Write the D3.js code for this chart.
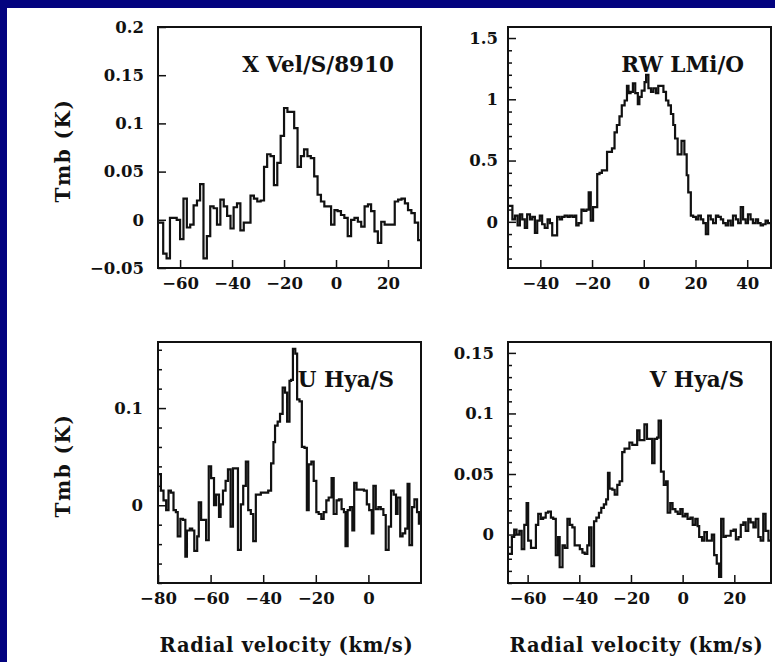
<!DOCTYPE html>
<html>
<head>
<meta charset="utf-8">
<script src="https://cdn.jsdelivr.net/npm/d3@7"></script>
<style>
  html, body { margin: 0; padding: 0; background: #ffffff; }
  svg { display: block; }
</style>
</head>
<body>
<svg id="chart" width="775" height="662"></svg>
<script>
// ---- Spectra: channel velocity (km/s) and main-beam temperature Tmb (K) ----

// X Vel/S/8910
const velXVel = [
  -67.7,-66.5,-65.2,-63.9,-62.6,-61.3,-60.0,-58.7,-57.4,-56.1,
  -54.8,-53.5,-52.3,-51.0,-49.7,-48.4,-47.1,-45.8,-44.5,-43.2,
  -41.9,-40.6,-39.4,-38.1,-36.8,-35.5,-34.2,-32.9,-31.6,-30.3,
  -29.0,-27.7,-26.5,-25.2,-23.9,-22.6,-21.3,-20.0,-18.7,-17.4,
  -16.1,-14.8,-13.5,-12.3,-11.0,-9.7,-8.4,-7.1,-5.8,-4.5,
  -3.2,-1.9,-0.6,0.6,1.9,3.2,4.5,5.8,7.1,8.4,
  9.7,11.0,12.3,13.5,14.8,16.1,17.4,18.7,20.0,21.3,
  22.6,23.9,25.2,26.5,27.7,29.0,30.3,31.6
];
const tmbXVel = [
  -0.003,-0.035,-0.040,0.002,0.002,0.000,-0.020,0.022,-0.008,-0.005,
  0.015,0.020,0.037,-0.040,-0.017,0.014,0.012,-0.005,0.021,0.014,
  0.004,-0.009,0.013,0.017,-0.011,-0.003,-0.003,0.025,0.022,0.019,
  0.020,0.055,0.068,0.066,0.036,0.059,0.087,0.116,0.112,0.112,
  0.095,0.055,0.066,0.073,0.066,0.064,0.045,0.026,0.019,0.014,
  0.014,-0.005,0.010,0.009,0.005,0.002,-0.017,0.000,0.002,-0.002,
  -0.007,0.014,0.016,0.009,-0.012,-0.024,-0.002,-0.005,-0.005,-0.005,
  0.019,0.021,0.022,0.017,0.010,0.007,-0.003,-0.021
];

// RW LMi/O
const velRwLmi = [
  -51.7,-50.8,-49.8,-48.8,-47.9,-47.0,-46.0,-45.1,-44.0,-43.1,
  -42.1,-41.2,-40.2,-39.3,-38.3,-37.2,-36.3,-35.4,-34.4,-33.5,
  -32.5,-31.6,-30.6,-29.5,-28.6,-27.6,-26.7,-26.1,-25.2,-24.1,
  -23.2,-22.2,-21.3,-20.5,-19.6,-18.7,-18.0,-17.1,-16.2,-15.1,
  -14.2,-13.2,-12.3,-11.3,-10.4,-9.4,-8.5,-7.4,-6.5,-5.9,
  -5.1,-4.2,-3.3,-2.3,-1.7,-0.8,0.3,0.9,1.8,2.8,
  3.7,4.7,5.6,6.7,7.6,8.6,9.5,10.5,11.4,12.1,
  13.1,14.0,14.6,15.7,16.6,17.2,18.2,19.1,20.2,21.1,
  22.1,23.0,24.0,24.9,25.9,26.8,27.9,28.8,29.8,30.7,
  31.7,32.6,33.6,34.5,35.6,36.5,37.5,38.4,39.4,40.3,
  41.3,42.2,43.3,44.2,45.2,46.1,47.1,48.0
];
const tmbRwLmi = [
  0.13,0.02,0.05,-0.03,0.06,0.02,-0.05,0.06,0.02,0.04,
  -0.09,0.01,0.05,-0.02,-0.05,0.02,-0.01,-0.11,-0.11,0.04,
  0.02,0.04,0.05,0.04,0.05,0.04,0.05,-0.03,-0.01,0.10,
  0.09,0.10,0.24,0.01,0.12,0.12,0.39,0.40,0.42,0.42,
  0.57,0.57,0.60,0.73,0.79,0.86,0.95,0.99,1.11,1.05,
  1.06,1.13,1.05,0.96,1.02,1.07,1.14,1.20,1.09,1.06,
  1.09,1.05,1.11,1.11,1.06,0.99,0.95,0.88,0.79,0.68,
  0.55,0.55,0.66,0.55,0.38,0.24,0.05,0.04,0.02,0.05,
  0.02,-0.01,-0.10,0.05,0.02,-0.01,0.05,0.04,0.02,-0.01,
  -0.03,0.01,-0.03,0.05,0.02,-0.01,0.12,0.02,-0.01,0.06,
  0.02,-0.01,0.02,-0.01,-0.03,-0.02,0.01,-0.01
];

// U Hya/S
const velUHya = [
  -79.8,-78.9,-77.9,-76.9,-76.0,-75.1,-74.1,-73.2,-72.5,-71.5,
  -70.5,-69.6,-69.0,-67.9,-67.0,-66.2,-65.1,-64.5,-63.6,-62.6,
  -61.7,-60.7,-59.8,-58.7,-57.9,-56.8,-56.2,-55.3,-54.3,-53.4,
  -52.4,-51.5,-50.4,-49.6,-48.5,-47.6,-46.6,-45.7,-44.7,-43.8,
  -42.8,-41.9,-40.9,-40.0,-39.0,-38.1,-37.0,-36.1,-35.5,-34.5,
  -33.6,-32.6,-31.7,-30.9,-30.0,-29.4,-28.7,-27.8,-27.1,-26.2,
  -25.3,-24.3,-23.4,-22.7,-21.7,-20.8,-19.8,-18.9,-17.9,-17.0,
  -16.0,-15.1,-14.0,-13.2,-12.1,-11.2,-10.2,-9.3,-8.7,-7.9,
  -7.0,-6.1,-5.4,-4.5,-3.6,-2.6,-1.7,-0.6,0.3,1.3,
  1.9,2.8,3.8,4.7,5.7,6.6,7.7,8.6,9.6,10.5,
  11.1,12.1,13.0,14.0,14.9,15.6,16.6,17.5,18.5,19.2
];
const tmbUHya = [
  0.032,0.015,0.005,-0.005,0.015,0.013,-0.005,-0.007,-0.032,-0.014,
  -0.015,-0.053,-0.026,-0.024,-0.026,-0.047,-0.032,0.003,-0.015,-0.015,
  -0.036,0.040,0.028,0.000,0.011,-0.012,0.001,0.015,0.025,0.037,
  -0.022,0.038,0.038,-0.046,0.001,0.020,0.045,-0.005,-0.009,-0.037,
  0.011,0.011,0.013,0.013,0.013,0.015,0.043,0.065,0.082,0.086,
  0.094,0.121,0.116,0.086,0.128,0.129,0.161,0.156,0.109,0.107,
  0.060,0.059,-0.005,0.042,0.045,0.025,-0.007,-0.009,-0.014,-0.007,
  0.005,0.008,0.028,-0.009,0.005,0.006,-0.004,-0.007,-0.042,-0.005,
  -0.002,-0.026,0.023,0.016,0.016,0.016,0.015,0.001,-0.005,-0.029,
  0.020,-0.004,-0.002,-0.004,-0.010,-0.046,-0.022,0.015,0.011,-0.009,
  0.008,-0.032,-0.029,-0.024,0.022,-0.041,-0.002,0.006,-0.007,-0.019
];

// V Hya/S
const velVHya = [
  -66.8,-66.1,-65.2,-64.3,-63.2,-62.3,-61.3,-60.4,-59.8,-58.7,
  -57.8,-56.8,-55.9,-54.9,-54.0,-53.0,-52.1,-51.0,-50.1,-49.1,
  -48.2,-47.6,-46.5,-45.6,-44.6,-43.7,-42.7,-41.8,-40.7,-39.8,
  -38.8,-37.9,-36.9,-36.2,-35.3,-34.3,-33.4,-32.4,-31.5,-30.5,
  -29.6,-28.9,-28.3,-27.2,-26.3,-25.3,-24.4,-23.4,-22.5,-21.5,
  -20.6,-19.5,-18.6,-17.6,-16.7,-15.7,-14.8,-13.8,-12.9,-11.8,
  -10.9,-9.9,-9.3,-8.4,-7.3,-6.4,-5.8,-4.8,-3.9,-2.8,
  -1.9,-0.9,0.0,1.0,1.9,3.0,3.9,4.9,5.8,6.4,
  7.5,8.4,9.4,10.3,11.3,12.2,13.2,14.1,14.9,15.8,
  16.7,17.7,18.6,19.7,20.6,21.6,22.5,23.5,24.4,25.4,
  26.3,27.4,28.3,29.3,30.2,31.2,32.1,33.2
];
const tmbVHya = [
  -0.016,-0.002,0.004,0.000,0.003,-0.012,0.008,0.026,-0.005,-0.011,
  -0.011,0.008,0.017,0.013,0.014,0.018,0.019,0.014,0.013,-0.017,
  -0.002,-0.027,-0.009,-0.011,0.013,0.008,0.006,-0.009,-0.009,-0.012,
  -0.015,-0.016,-0.009,0.006,-0.026,0.011,0.014,0.018,0.022,0.025,
  0.029,0.051,0.038,0.037,0.033,0.041,0.044,0.068,0.071,0.071,
  0.076,0.074,0.074,0.086,0.078,0.078,0.091,0.079,0.079,0.059,
  0.079,0.080,0.094,0.052,0.041,0.044,0.018,0.026,0.021,0.019,
  0.017,0.021,0.015,0.017,0.013,0.014,0.008,0.013,0.007,-0.002,
  -0.005,0.002,-0.005,-0.005,0.000,-0.017,-0.024,-0.035,0.013,-0.002,
  -0.001,-0.001,0.003,0.004,-0.004,-0.002,0.008,0.010,0.003,0.013,
  0.010,0.006,0.013,-0.002,-0.005,0.017,0.003,-0.005
];

// ---- Axis ticks ----
const velTicksA = [-60, -40, -20, 0, 20];
const velLabelsA = ["−60", "−40", "−20", "0", "20"];
const velTicksB = [-40, -20, 0, 20, 40];
const velLabelsB = ["−40", "−20", "0", "20", "40"];
const velTicksC = [-80, -60, -40, -20, 0];
const velLabelsC = ["−80", "−60", "−40", "−20", "0"];

const tmbTicksXVel = [-0.05, 0, 0.05, 0.1, 0.15, 0.2];
const tmbLabelsXVel = ["−0.05", "0", "0.05", "0.1", "0.15", "0.2"];
const tmbTicksRwLmi = [0, 0.5, 1, 1.5];
const tmbLabelsRwLmi = ["0", "0.5", "1", "1.5"];
const tmbTicksUHya = [0, 0.1];
const tmbLabelsUHya = ["0", "0.1"];
const tmbTicksVHya = [0, 0.05, 0.1, 0.15];
const tmbLabelsVHya = ["0", "0.05", "0.1", "0.15"];

const sourceNames = ["X Vel/S/8910", "RW LMi/O", "U Hya/S", "V Hya/S"];

// ---- Layout ----
const W = 775, H = 662;
const colLeft = [158, 508], colWidth = 263;
const rowTop = [27, 342], rowHeight = 241;
const FONT = "'DejaVu Serif', 'Liberation Serif', serif";
const INK = "#111";

const panels = [
  { name: sourceNames[0], vel: velXVel, tmb: tmbXVel, col: 0, row: 0,
    xDomain: [-68.5, 32.7], yDomain: [-0.05, 0.2],
    xTicks: velTicksA, xLabels: velLabelsA, yTicks: tmbTicksXVel, yLabels: tmbLabelsXVel,
    yMinor: null, yPad: 14 },
  { name: sourceNames[1], vel: velRwLmi, tmb: tmbRwLmi, col: 1, row: 0,
    xDomain: [-52.5, 49.2], yDomain: [-0.377, 1.59],
    xTicks: velTicksB, xLabels: velLabelsB, yTicks: tmbTicksRwLmi, yLabels: tmbLabelsRwLmi,
    yMinor: 0.1, yPad: 10 },
  { name: sourceNames[2], vel: velUHya, tmb: tmbUHya, col: 0, row: 1,
    xDomain: [-80, 20], yDomain: [-0.08, 0.168],
    xTicks: velTicksC, xLabels: velLabelsC, yTicks: tmbTicksUHya, yLabels: tmbLabelsUHya,
    yMinor: 0.02, yPad: 15 },
  { name: sourceNames[3], vel: velVHya, tmb: tmbVHya, col: 1, row: 1,
    xDomain: [-67.6, 34.2], yDomain: [-0.04, 0.159],
    xTicks: velTicksA, xLabels: velLabelsA, yTicks: tmbTicksVHya, yLabels: tmbLabelsVHya,
    yMinor: 0.01, yPad: 14 }
];

const svg = d3.select("#chart");

// page background with the dark blue band along the top and left
svg.append("rect").attr("width", W).attr("height", H).attr("fill", "#ffffff");
svg.append("rect").attr("x", 0).attr("y", 0).attr("width", W).attr("height", 8).attr("fill", "#03037f");
svg.append("rect").attr("x", 0).attr("y", 0).attr("width", 7).attr("height", H).attr("fill", "#03037f");

const defs = svg.append("defs");

function styleTickText(sel) {
  sel.attr("font-family", FONT).attr("font-weight", "bold")
    .attr("font-size", 16.5).attr("fill", INK);
}

panels.forEach((p, i) => {
  const left = colLeft[p.col], top = rowTop[p.row];
  const g = svg.append("g").attr("transform", `translate(${left},${top})`);
  const x = d3.scaleLinear().domain(p.xDomain).range([0, colWidth]);
  const y = d3.scaleLinear().domain(p.yDomain).range([rowHeight, 0]);

  defs.append("clipPath").attr("id", "clip" + i)
    .append("rect").attr("width", colWidth).attr("height", rowHeight);

  // spectrum drawn as a histogram (channel steps)
  const pts = p.vel.map((v, k) => [v, p.tmb[k]]);
  pts.unshift([p.xDomain[0], p.tmb[0]]);
  pts.push([p.xDomain[1], p.tmb[p.tmb.length - 1]]);
  const line = d3.line()
    .x(d => x(d[0]))
    .y(d => y(d[1]))
    .curve(d3.curveStepAfter);
  g.append("path")
    .attr("clip-path", `url(#clip${i})`)
    .attr("d", line(pts))
    .attr("fill", "none")
    .attr("stroke", INK)
    .attr("stroke-width", 2.2)
    .attr("stroke-linejoin", "miter");

  // minor ticks on the temperature axis
  if (p.yMinor) {
    const minor = d3.range(Math.ceil(p.yDomain[0] / p.yMinor) * p.yMinor, p.yDomain[1], p.yMinor)
      .filter(v => !p.yTicks.some(t => Math.abs(t - v) < p.yMinor / 10));
    const minorAxis = g.append("g")
      .call(d3.axisLeft(y).tickValues(minor).tickSize(-4).tickFormat(""));
    minorAxis.select(".domain").remove();
    minorAxis.selectAll(".tick line").attr("stroke", INK).attr("stroke-width", 1.5);
  }

  // major temperature ticks and labels
  const yAxis = g.append("g")
    .call(d3.axisLeft(y).tickValues(p.yTicks).tickSize(-8).tickPadding(p.yPad)
      .tickFormat((d, k) => p.yLabels[k]));
  yAxis.select(".domain").remove();
  yAxis.selectAll(".tick line").attr("stroke", INK).attr("stroke-width", 1.5);
  yAxis.selectAll(".tick text").call(styleTickText);

  // velocity ticks and labels
  const xAxis = g.append("g").attr("transform", `translate(0,${rowHeight})`)
    .call(d3.axisBottom(x).tickValues(p.xTicks).tickSize(-8).tickPadding(9)
      .tickFormat((d, k) => p.xLabels[k]));
  xAxis.select(".domain").remove();
  xAxis.selectAll(".tick line").attr("stroke", INK).attr("stroke-width", 1.5);
  xAxis.selectAll(".tick text").call(styleTickText);

  // frame
  g.append("rect")
    .attr("width", colWidth).attr("height", rowHeight)
    .attr("fill", "none").attr("stroke", INK).attr("stroke-width", 2);

  // source label
  g.append("text")
    .attr("x", colWidth - 27).attr("y", 45)
    .attr("text-anchor", "end")
    .attr("font-family", FONT).attr("font-weight", "bold").attr("font-size", 21.5).attr("fill", INK)
    .text(p.name);
});

// axis titles
rowTop.forEach(t => {
  svg.append("text")
    .attr("transform", `translate(70,${t + rowHeight / 2 + 3}) rotate(-90)`)
    .attr("text-anchor", "middle")
    .attr("font-family", FONT).attr("font-weight", "bold").attr("font-size", 20)
    .attr("letter-spacing", 1.5).attr("fill", INK)
    .text("Tmb (K)");
});
colLeft.forEach(l => {
  svg.append("text")
    .attr("x", l + colWidth / 2 - 3).attr("y", 652)
    .attr("text-anchor", "middle")
    .attr("font-family", FONT).attr("font-weight", "bold").attr("font-size", 19.5)
    .attr("letter-spacing", 0.7).attr("fill", INK)
    .text("Radial velocity (km/s)");
});
</script>
</body>
</html>
